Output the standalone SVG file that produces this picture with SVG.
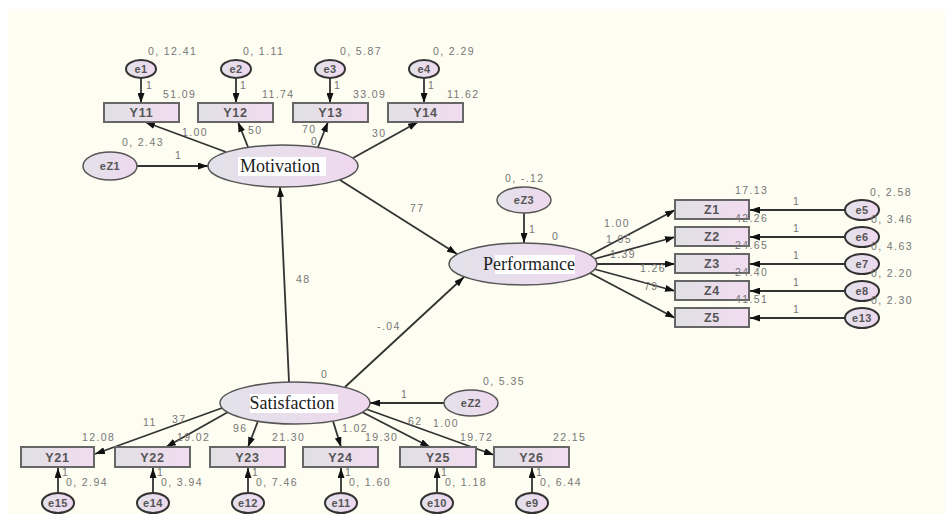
<svg xmlns="http://www.w3.org/2000/svg" width="945" height="514" viewBox="0 0 945 514">
  <defs>
    <linearGradient id="boxFill" x1="0" y1="0" x2="1" y2="0">
      <stop offset="0" stop-color="#e0e0e4"/>
      <stop offset="1" stop-color="#f2dcf0"/>
    </linearGradient>
    <linearGradient id="ovalFill" x1="0" y1="0" x2="1" y2="0">
      <stop offset="0" stop-color="#e2e2ea"/>
      <stop offset="1" stop-color="#efd8ee"/>
    </linearGradient>
    <marker id="head" viewBox="0 0 10 7" refX="10" refY="3.5" markerWidth="10" markerHeight="7" markerUnits="userSpaceOnUse" orient="auto">
      <path d="M0,0 L10,3.5 L0,7 z" fill="#111"/>
    </marker>
  </defs>
  <style>
    .box { fill: url(#boxFill); stroke: #666; stroke-width: 2; }
    .latent { fill: url(#ovalFill); stroke: #555; stroke-width: 1.5; }
    .err { fill: url(#ovalFill); stroke: #333; stroke-width: 2; }
    .boxlbl { font-family: "Liberation Sans", Arial, sans-serif; font-size: 12.5px; font-weight: bold; fill: #555; text-anchor: middle; letter-spacing: 0.8px; }
    .errlbl { font-family: "Liberation Sans", Arial, sans-serif; font-size: 11px; font-weight: bold; fill: #555; text-anchor: middle; letter-spacing: 0.5px; }
    .latlbl { font-family: "Liberation Serif", "Times New Roman", serif; font-size: 18px; fill: #222; text-anchor: middle; }
    .num { font-family: "Liberation Sans", Arial, sans-serif; font-size: 10.5px; fill: #777; letter-spacing: 1.4px; }
    .conn line { stroke: #333; stroke-width: 1.8; marker-end: url(#head); }
  </style>

  <!-- background -->
  <rect width="945" height="514" fill="#ffffff"/>
  <rect x="8" y="9" width="937" height="505" fill="#fdfdf1"/>

  <!-- connectors -->
  <g id="connectors" class="conn">
    <!-- error terms to Motivation indicators -->
    <line x1="141" y1="78" x2="141" y2="103"/>
    <line x1="236" y1="78" x2="236" y2="103"/>
    <line x1="330" y1="78" x2="330" y2="103"/>
    <line x1="424" y1="78" x2="424" y2="103"/>
    <!-- Motivation loadings -->
    <line x1="226" y1="152" x2="145" y2="122"/>
    <line x1="248" y1="147" x2="238" y2="122"/>
    <line x1="318" y1="147" x2="328" y2="122"/>
    <line x1="353" y1="158" x2="418" y2="122"/>
    <!-- disturbances -->
    <line x1="137" y1="166" x2="208" y2="166"/>
    <line x1="524" y1="213" x2="524" y2="243"/>
    <line x1="444" y1="403" x2="370" y2="403"/>
    <!-- structural paths -->
    <line x1="340" y1="180" x2="457" y2="254"/>
    <line x1="289" y1="382" x2="280" y2="187"/>
    <line x1="345" y1="387" x2="464" y2="277"/>
    <!-- Performance loadings -->
    <line x1="590" y1="255" x2="675" y2="210"/>
    <line x1="594" y1="259" x2="675" y2="237"/>
    <line x1="597" y1="264" x2="675" y2="264"/>
    <line x1="594" y1="269" x2="675" y2="291"/>
    <line x1="590" y1="273" x2="675" y2="318"/>
    <!-- error terms to Performance indicators -->
    <line x1="845" y1="210" x2="750" y2="210"/>
    <line x1="845" y1="237" x2="750" y2="237"/>
    <line x1="845" y1="264" x2="750" y2="264"/>
    <line x1="845" y1="291" x2="750" y2="291"/>
    <line x1="845" y1="318" x2="750" y2="318"/>
    <!-- Satisfaction loadings -->
    <line x1="222" y1="408" x2="95" y2="454"/>
    <line x1="228" y1="412" x2="166" y2="447"/>
    <line x1="258" y1="421" x2="248" y2="447"/>
    <line x1="333" y1="421" x2="341" y2="447"/>
    <line x1="362" y1="412" x2="430" y2="447"/>
    <line x1="366" y1="409" x2="494" y2="455"/>
    <!-- error terms to Satisfaction indicators -->
    <line x1="58" y1="493" x2="58" y2="468"/>
    <line x1="153" y1="493" x2="153" y2="468"/>
    <line x1="248" y1="493" x2="248" y2="468"/>
    <line x1="341" y1="493" x2="341" y2="468"/>
    <line x1="437" y1="493" x2="437" y2="468"/>
    <line x1="532" y1="493" x2="532" y2="468"/>
  </g>

  <!-- Motivation indicators -->
  <g id="Y11"><rect class="box" x="104" y="103" width="75" height="19"/><text class="boxlbl" x="141.5" y="117">Y11</text></g>
  <g id="Y12"><rect class="box" x="198" y="103" width="75" height="19"/><text class="boxlbl" x="235.5" y="117">Y12</text></g>
  <g id="Y13"><rect class="box" x="293" y="103" width="75" height="19"/><text class="boxlbl" x="330.5" y="117">Y13</text></g>
  <g id="Y14"><rect class="box" x="388" y="103" width="75" height="19"/><text class="boxlbl" x="425.5" y="117">Y14</text></g>

  <g id="e1"><ellipse class="err" cx="141" cy="69" rx="15" ry="9"/><text class="errlbl" x="141" y="73">e1</text></g>
  <g id="e2"><ellipse class="err" cx="236" cy="69" rx="15" ry="9"/><text class="errlbl" x="236" y="73">e2</text></g>
  <g id="e3"><ellipse class="err" cx="330" cy="69" rx="15" ry="9"/><text class="errlbl" x="330" y="73">e3</text></g>
  <g id="e4"><ellipse class="err" cx="424" cy="69" rx="15" ry="9"/><text class="errlbl" x="424" y="73">e4</text></g>

  <!-- latent variables -->
  <g id="Motivation">
    <ellipse class="latent" cx="283" cy="166" rx="75" ry="21"/>
    <rect x="238" y="157" width="88" height="19" fill="#ffffff"/>
    <text class="latlbl" x="280" y="172">Motivation</text>
  </g>
  <g id="Performance">
    <ellipse class="latent" cx="523" cy="264" rx="74" ry="21"/>
    <rect x="495" y="255" width="80" height="19" fill="#ffffff"/>
    <text class="latlbl" x="529" y="270">Performance</text>
  </g>
  <g id="Satisfaction">
    <ellipse class="latent" cx="295" cy="403" rx="75" ry="21"/>
    <rect x="250" y="394" width="88" height="19" fill="#ffffff"/>
    <text class="latlbl" x="292" y="409">Satisfaction</text>
  </g>

  <g id="eZ1"><ellipse class="latent" cx="110" cy="166" rx="27" ry="14"/><text class="errlbl" x="110" y="170">eZ1</text></g>
  <g id="eZ3"><ellipse class="latent" cx="524" cy="200" rx="27" ry="13"/><text class="errlbl" x="524" y="204">eZ3</text></g>
  <g id="eZ2"><ellipse class="latent" cx="471" cy="403" rx="27" ry="13"/><text class="errlbl" x="471" y="407">eZ2</text></g>

  <!-- Performance indicators -->
  <g id="Z1"><rect class="box" x="675" y="200" width="74" height="19"/><text class="boxlbl" x="712" y="214">Z1</text></g>
  <g id="Z2"><rect class="box" x="675" y="227" width="74" height="19"/><text class="boxlbl" x="712" y="241">Z2</text></g>
  <g id="Z3"><rect class="box" x="675" y="254" width="74" height="19"/><text class="boxlbl" x="712" y="268">Z3</text></g>
  <g id="Z4"><rect class="box" x="675" y="281" width="74" height="19"/><text class="boxlbl" x="712" y="295">Z4</text></g>
  <g id="Z5"><rect class="box" x="675" y="308" width="74" height="19"/><text class="boxlbl" x="712" y="322">Z5</text></g>

  <g id="e5"><ellipse class="err" cx="862" cy="210" rx="17" ry="10"/><text class="errlbl" x="862" y="214">e5</text></g>
  <g id="e6"><ellipse class="err" cx="862" cy="237" rx="17" ry="10"/><text class="errlbl" x="862" y="241">e6</text></g>
  <g id="e7"><ellipse class="err" cx="862" cy="264" rx="17" ry="10"/><text class="errlbl" x="862" y="268">e7</text></g>
  <g id="e8"><ellipse class="err" cx="862" cy="291" rx="17" ry="10"/><text class="errlbl" x="862" y="295">e8</text></g>
  <g id="e13"><ellipse class="err" cx="862" cy="318" rx="17" ry="10"/><text class="errlbl" x="862" y="322">e13</text></g>

  <!-- Satisfaction indicators -->
  <g id="Y21"><rect class="box" x="21" y="447" width="73" height="20"/><text class="boxlbl" x="57.5" y="462">Y21</text></g>
  <g id="Y22"><rect class="box" x="115" y="447" width="75" height="20"/><text class="boxlbl" x="152.5" y="462">Y22</text></g>
  <g id="Y23"><rect class="box" x="210" y="447" width="75" height="20"/><text class="boxlbl" x="247.5" y="462">Y23</text></g>
  <g id="Y24"><rect class="box" x="303" y="447" width="75" height="20"/><text class="boxlbl" x="340.5" y="462">Y24</text></g>
  <g id="Y25"><rect class="box" x="400" y="447" width="76" height="20"/><text class="boxlbl" x="438" y="462">Y25</text></g>
  <g id="Y26"><rect class="box" x="494" y="447" width="75" height="20"/><text class="boxlbl" x="531.5" y="462">Y26</text></g>

  <g id="e15"><ellipse class="err" cx="58" cy="503" rx="16" ry="10"/><text class="errlbl" x="58" y="507">e15</text></g>
  <g id="e14"><ellipse class="err" cx="153" cy="503" rx="16" ry="10"/><text class="errlbl" x="153" y="507">e14</text></g>
  <g id="e12"><ellipse class="err" cx="248" cy="503" rx="16" ry="10"/><text class="errlbl" x="248" y="507">e12</text></g>
  <g id="e11"><ellipse class="err" cx="341" cy="503" rx="16" ry="10"/><text class="errlbl" x="341" y="507">e11</text></g>
  <g id="e10"><ellipse class="err" cx="437" cy="503" rx="16" ry="10"/><text class="errlbl" x="437" y="507">e10</text></g>
  <g id="e9"><ellipse class="err" cx="532" cy="503" rx="16" ry="10"/><text class="errlbl" x="532" y="507">e9</text></g>

  <!-- estimates -->
  <g id="estimates" class="num">
    <text x="148" y="55">0, 12.41</text>
    <text x="243" y="55">0, 1.11</text>
    <text x="340" y="55">0, 5.87</text>
    <text x="433" y="55">0, 2.29</text>
    <text x="146" y="89">1</text>
    <text x="240" y="89">1</text>
    <text x="334" y="89">1</text>
    <text x="428" y="89">1</text>
    <text x="163" y="98">51.09</text>
    <text x="262" y="98">11.74</text>
    <text x="353" y="98">33.09</text>
    <text x="447" y="98">11.62</text>
    <text x="182" y="136">1.00</text>
    <text x="248" y="134">50</text>
    <text x="302" y="133">70</text>
    <text x="311" y="145">0</text>
    <text x="372" y="137">30</text>
    <text x="122" y="146">0, 2.43</text>
    <text x="175" y="159">1</text>
    <text x="410" y="212">77</text>
    <text x="296" y="283">48</text>
    <text x="377" y="330">-.04</text>
    <text x="505" y="182">0, -.12</text>
    <text x="529" y="233">1</text>
    <text x="552" y="240">0</text>
    <text x="321" y="378">0</text>
    <text x="483" y="385">0, 5.35</text>
    <text x="401" y="398">1</text>
    <text x="82" y="441">12.08</text>
    <text x="143" y="426">11</text>
    <text x="172" y="423">37</text>
    <text x="177" y="441">19.02</text>
    <text x="233" y="432">96</text>
    <text x="272" y="441">21.30</text>
    <text x="342" y="432">1.02</text>
    <text x="365" y="441">19.30</text>
    <text x="408" y="425">62</text>
    <text x="433" y="427">1.00</text>
    <text x="460" y="441">19.72</text>
    <text x="553" y="441">22.15</text>
    <text x="62" y="476">1</text>
    <text x="157" y="476">1</text>
    <text x="252" y="476">1</text>
    <text x="345" y="476">1</text>
    <text x="441" y="476">1</text>
    <text x="536" y="476">1</text>
    <text x="66" y="486">0, 2.94</text>
    <text x="161" y="486">0, 3.94</text>
    <text x="256" y="486">0, 7.46</text>
    <text x="349" y="486">0, 1.60</text>
    <text x="445" y="486">0, 1.18</text>
    <text x="540" y="486">0, 6.44</text>
    <text x="604" y="227">1.00</text>
    <text x="606" y="243">1.05</text>
    <text x="610" y="258">1.39</text>
    <text x="640" y="272">1.26</text>
    <text x="644" y="290">79</text>
    <text x="735" y="194">17.13</text>
    <text x="735" y="222">42.26</text>
    <text x="735" y="249">24.65</text>
    <text x="735" y="276">24.40</text>
    <text x="735" y="303">41.51</text>
    <text x="793" y="205">1</text>
    <text x="793" y="232">1</text>
    <text x="793" y="259">1</text>
    <text x="793" y="286">1</text>
    <text x="793" y="313">1</text>
    <text x="870" y="196">0, 2.58</text>
    <text x="871" y="223">0, 3.46</text>
    <text x="871" y="250">0, 4.63</text>
    <text x="871" y="277">0, 2.20</text>
    <text x="871" y="304">0, 2.30</text>
  </g>
</svg>
